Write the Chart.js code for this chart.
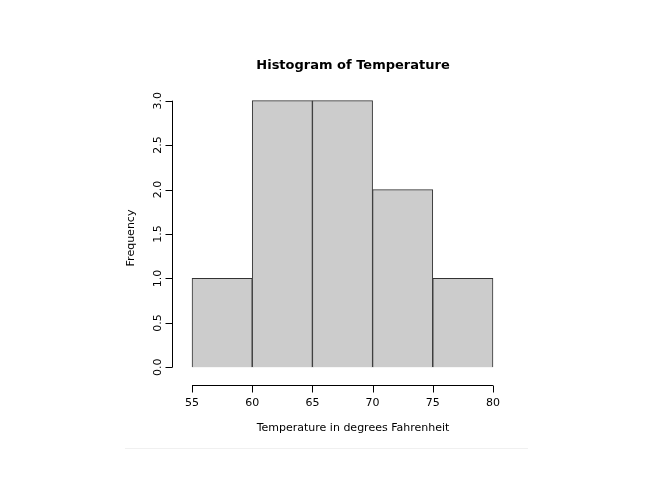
<!DOCTYPE html>
<html>
<head>
<meta charset="utf-8">
<script src="https://cdn.jsdelivr.net/npm/chart.js@4"></script>
<style>
  html, body { margin: 0; padding: 0; background: #fff; }
  #wrap { width: 654px; height: 489px; }
</style>
</head>
<body>
<div id="wrap"><canvas id="hist"></canvas></div>
<script>
// Histogram bins and counts
const binEdges = [55, 60, 65, 70, 75, 80];
const counts = [1, 3, 3, 2, 1];
const yTicks = [0, 0.5, 1, 1.5, 2, 2.5, 3];
const yTickLabels = ['0.0', '0.5', '1.0', '1.5', '2.0', '2.5', '3.0'];

const points = counts.map((c, i) => ({ x: (binEdges[i] + binEdges[i + 1]) / 2, y: c }));

const font = '"DejaVu Sans", sans-serif';

// R-style axes, title and labels
const baseAxes = {
    id: 'baseAxes',
    afterDraw(chart) {
        const ctx = chart.ctx;
        const xs = chart.scales.x, ys = chart.scales.y;
        ctx.save();
        ctx.strokeStyle = '#000';
        ctx.fillStyle = '#000';
        ctx.lineWidth = 1;

        // x axis
        const xAxisY = 385.5;
        ctx.beginPath();
        ctx.moveTo(xs.getPixelForValue(binEdges[0]), xAxisY);
        ctx.lineTo(xs.getPixelForValue(binEdges[binEdges.length - 1]), xAxisY);
        binEdges.forEach(v => {
            const px = Math.round(xs.getPixelForValue(v)) + 0.5;
            ctx.moveTo(px, xAxisY);
            ctx.lineTo(px, xAxisY + 7);
        });
        ctx.stroke();
        ctx.font = '11px ' + font;
        ctx.textAlign = 'center';
        ctx.textBaseline = 'top';
        binEdges.forEach(v => ctx.fillText(String(v), xs.getPixelForValue(v), 398));

        // y axis
        const yAxisX = 172.5;
        ctx.beginPath();
        ctx.moveTo(yAxisX, ys.getPixelForValue(0));
        ctx.lineTo(yAxisX, ys.getPixelForValue(3));
        yTicks.forEach(v => {
            const py = Math.round(ys.getPixelForValue(v)) + 0.5;
            ctx.moveTo(yAxisX, py);
            ctx.lineTo(yAxisX - 7, py);
        });
        ctx.stroke();
        yTicks.forEach((v, i) => {
            ctx.save();
            ctx.translate(160, ys.getPixelForValue(v));
            ctx.rotate(-Math.PI / 2);
            ctx.textAlign = 'center';
            ctx.textBaseline = 'bottom';
            ctx.fillText(yTickLabels[i], 0, 4);
            ctx.restore();
        });

        // axis titles
        ctx.textAlign = 'center';
        ctx.textBaseline = 'middle';
        ctx.fillText('Temperature in degrees Fahrenheit', 353, 428);
        ctx.save();
        ctx.translate(131, 238);
        ctx.rotate(-Math.PI / 2);
        ctx.fillText('Frequency', 0, 0);
        ctx.restore();

        // main title
        ctx.font = 'bold 13px ' + font;
        ctx.fillText('Histogram of Temperature', 353, 66);

        // faint rule at bottom
        ctx.strokeStyle = '#f0f0f0';
        ctx.beginPath();
        ctx.moveTo(125, 448.5);
        ctx.lineTo(528, 448.5);
        ctx.stroke();
        ctx.restore();
    }
};

new Chart(document.getElementById('hist'), {
    type: 'bar',
    data: {
        datasets: [{
            data: points,
            backgroundColor: '#cccccc',
            borderColor: '#333333',
            borderWidth: 1,
            barPercentage: 1,
            categoryPercentage: 1
        }]
    },
    options: {
        responsive: true,
        maintainAspectRatio: false,
        animation: false,
        layout: { padding: { left: 172, right: 149, top: 90, bottom: 103 } },
        plugins: { legend: { display: false }, tooltip: { enabled: false } },
        scales: {
            x: {
                type: 'linear', min: 54, max: 81, offset: false,
                ticks: { display: false }, grid: { display: false }, border: { display: false }
            },
            y: {
                min: -0.12, max: 3.12,
                ticks: { display: false }, grid: { display: false }, border: { display: false }
            }
        }
    },
    plugins: [baseAxes]
});
</script>
</body>
</html>
